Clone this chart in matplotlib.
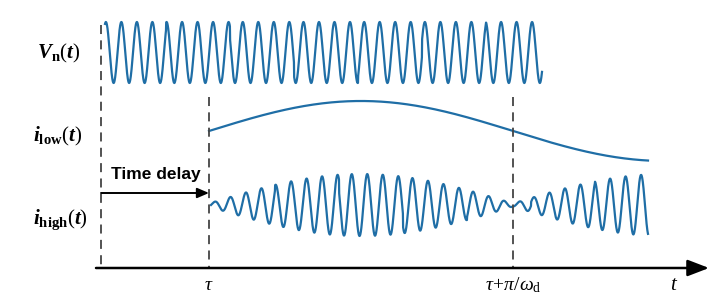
import numpy as np
import matplotlib
matplotlib.use("Agg")
import matplotlib.pyplot as plt

plt.rcParams['mathtext.fontset'] = 'custom'
plt.rcParams['mathtext.rm'] = 'Liberation Serif'
plt.rcParams['mathtext.it'] = 'Liberation Serif:italic'
plt.rcParams['mathtext.bf'] = 'Liberation Serif:bold'
plt.rcParams['mathtext.bfit'] = 'Liberation Serif:italic:bold'

# ---- schematic parameters (pixel-like time units) ----
t_start = 101          # start of Vn / time origin
tau = 209              # delay
tau_half = 513         # tau + pi/omega_d
t_end_high = 648       # end of i_low / i_high
vn_range = (105, 542)
carrier_period = 15.5
glitch_len = 64.0      # phase restart length (sampling artifact look)

row_centers = {"vn": 52.5, "low": 131, "high": 205}
amps = {"vn": 30.5, "low": 30, "high": 31}

row_labels = [r"$\mathbfit{V}_{\mathbf{n}}(\mathbfit{t})$",
              r"$\mathbfit{i}_{\mathbf{low}}(\mathbfit{t})$",
              r"$\mathbfit{i}_{\mathbf{high}}(\mathbfit{t})$"]
tick_labels = [r"$\tau$", r"$\tau\!+\!\pi/\omega_{\mathrm{d}}$"]
blue = "#1f6ea6"

fig = plt.figure(figsize=(7.26, 3.03), dpi=100)
ax = fig.add_axes([0, 0, 1, 1])
ax.set_xlim(0, 726)
ax.set_ylim(303, 0)
ax.axis("off")

def carrier(x, x0):
    loc = np.mod(x - x0, glitch_len)
    seg = np.floor((x - x0) / glitch_len)
    return np.sin(2 * np.pi * (loc + seg * 3.3) / carrier_period)

# Vn(t)
x = np.linspace(vn_range[0], vn_range[1], 4000)
ax.plot(x, row_centers["vn"] - amps["vn"] * carrier(x, vn_range[0] - 3), color=blue, lw=1.6)

# i_low(t)
wd = np.pi / (tau_half - tau)
xl = np.linspace(tau, t_end_high, 1000)
ax.plot(xl, row_centers["low"] - amps["low"] * np.sin(wd * (xl - tau)), color=blue, lw=1.6)

# i_high(t)
xh = np.linspace(tau + 2, t_end_high, 4000)
env = 0.05 + 0.95 * np.abs(np.sin(wd * (xh - tau)))
ax.plot(xh, row_centers["high"] - amps["high"] * env * carrier(xh, tau + 2), color=blue, lw=1.6)

# dashed lines
ax.plot([t_start, t_start], [25, 268], ls=(0, (5, 3.5)), color="#444444", lw=1.3)
for xv in (tau, tau_half):
    ax.plot([xv, xv], [97, 268], ls=(0, (5, 3.5)), color="#444444", lw=1.3)

# time axis
ax.annotate("", xy=(709, 268), xytext=(96, 268),
            arrowprops=dict(arrowstyle="-|>,head_length=1.3,head_width=0.5", color="black", lw=1.8,
                            shrinkA=0, shrinkB=0))

# time delay arrow
ax.annotate("", xy=(tau, 193), xytext=(t_start, 193),
            arrowprops=dict(arrowstyle="-|>,head_length=0.7,head_width=0.3", color="black", lw=1.4,
                            shrinkA=0, shrinkB=0))
ax.text((t_start + tau) / 2 + 1, 174, "Time delay", ha="center", va="center",
        fontsize=12.5, fontweight="bold", family="Liberation Sans")

# row labels
ax.text(59, 53, row_labels[0], ha="center", va="center", fontsize=15)
ax.text(58, 136, row_labels[1], ha="center", va="center", fontsize=15)
ax.text(60, 220, row_labels[2], ha="center", va="center", fontsize=15)

# tick labels
ax.text(tau, 285, tick_labels[0], ha="center", va="center", fontsize=14)
ax.text(tau_half, 285, tick_labels[1], ha="center", va="center", fontsize=14)
ax.text(674, 284, r"$t$", ha="center", va="center", fontsize=15)

fig.savefig("out.png", dpi=100)
